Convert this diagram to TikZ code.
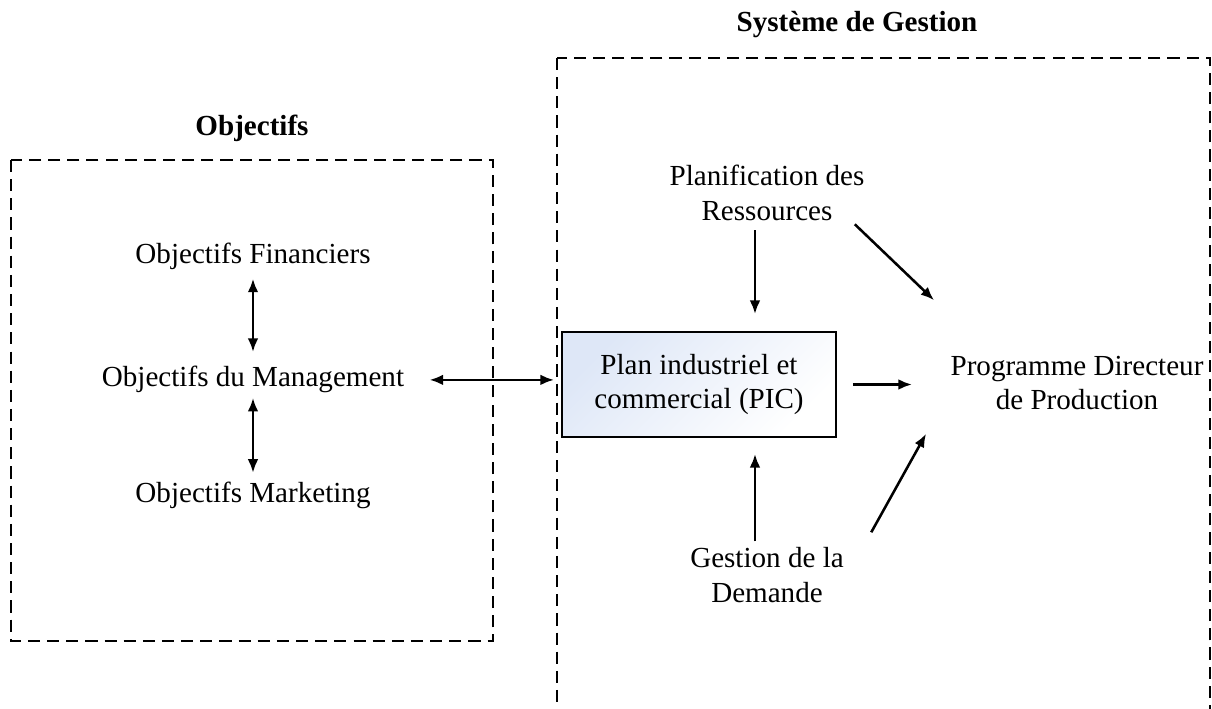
\documentclass[tikz,border=0pt]{standalone}
\usepackage{fontspec}
\setmainfont{Liberation Serif}
\usetikzlibrary{calc,arrows.meta}
\definecolor{picblue}{RGB}{222,231,247}

\begin{document}
\begin{tikzpicture}[x=0.4125pt, y=-0.4125pt, >={Latex[length=5.6pt,width=4.4pt]},
    font=\fontsize{12}{14.4}\selectfont,
    txt/.style={inner sep=0pt, align=center},
    ttl/.style={inner sep=0pt, font=\fontsize{12}{14.4}\selectfont\bfseries},
    zone/.style={draw, line width=0.75pt, dash pattern=on 5pt off 2.9pt},
    picbox/.style={draw, line width=0.8pt, align=center, top color=picblue, bottom color=white, shading angle=45, minimum width=113pt, minimum height=43.3pt},
    link/.style={line width=1.05pt}]
    \useasboundingbox (0,0) rectangle (1212,709);
    \clip (0,0) rectangle (1212,709);
    % dashed zones
    \draw[zone] (11,160) rectangle (493,641);
    \draw[zone] (557,58) rectangle (1210,760);
    \node[ttl, anchor=base] at (252,136) (tobj) {Objectifs};
    \node[ttl, anchor=base] at (857,32) (tges) {Système de Gestion};
    % objectifs
    \node[txt, anchor=base] at (253,264) (fin) {Objectifs Financiers};
    \node[txt, anchor=base] at (253,387) (man) {Objectifs du Management};
    \node[txt, anchor=base] at (253,503) (mkt) {Objectifs Marketing};
    % gestion
    \node[picbox] at (699,384.5) (pic) {Plan industriel et\\commercial (PIC)};
    \node[txt] at (767,193) (res) {Planification des\\Ressources};
    \node[txt] at (767,575.5) (dem) {Gestion de la\\Demande};
    \node[txt] at (1077,383) (pdp) {Programme Directeur\\de Production};
    \coordinate (vcol) at (755,0);
    \draw[link,<->,shorten <=3.3pt,shorten >=5.8pt] (fin.south) -- (man.north);
    \draw[link,<->,shorten <=1.7pt,shorten >=3.8pt] (man.south) -- (mkt.north);
    \draw[link,<->,shorten <=10.3pt,shorten >=2.9pt] (man.east) -- (man.east -| pic.west);
    \draw[link,->,shorten <=3.7pt,shorten >=7pt] (res.south -| vcol) -- (pic.north -| vcol);
    \draw[link,->,shorten <=2.5pt,shorten >=6.6pt] (dem.north -| vcol) -- (pic.south -| vcol);
    \draw[link,->,shorten <=6.6pt,shorten >=15.7pt] (pic.east) -- (pic.east -| pdp.west);
    \draw[link,->] ($(res.south east)+(-10,3)$) -- ($(pdp.north west)+(-16,-55)$);
    \draw[link,->] ($(dem.north east)+(27,-15)$) -- ($(pdp.south west)+(-24,23)$);
\end{tikzpicture}
\end{document}
